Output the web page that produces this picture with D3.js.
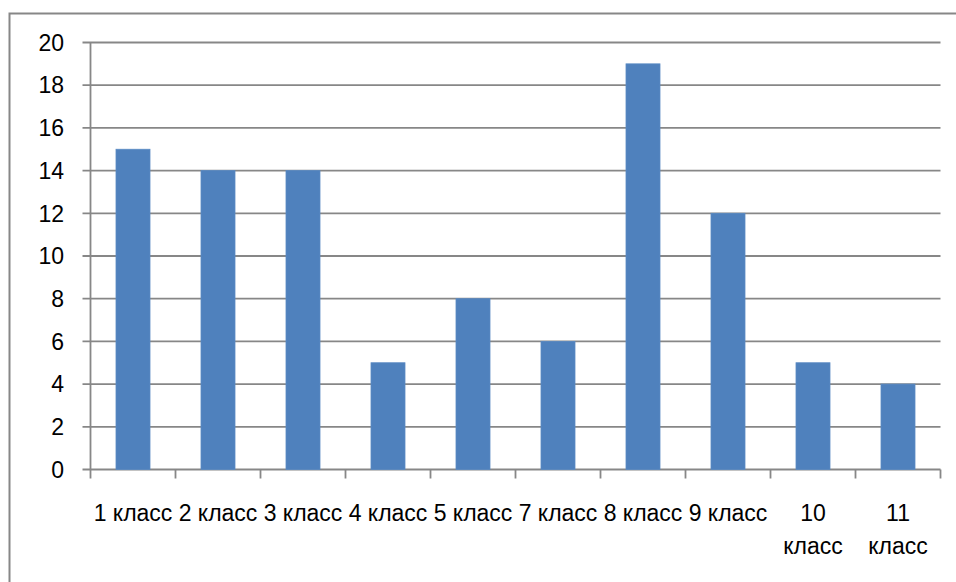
<!DOCTYPE html>
<html>
<head>
<meta charset="utf-8">
<script src="https://cdn.jsdelivr.net/npm/d3@7"></script>
<style>
  body { margin: 0; background: #fff; }
  svg { display: block; font-family: "Liberation Sans", Arial, sans-serif; }
</style>
</head>
<body>
<svg></svg>
<script>
let width = 956,
  height = 582;

// chart data
let categories = ["1 класс", "2 класс", "3 класс", "4 класс", "5 класс", "7 класс", "8 класс", "9 класс", "10 класс", "11 класс"];
let values = [15, 14, 14, 5, 8, 6, 19, 12, 5, 4];
let yTicks = [0, 2, 4, 6, 8, 10, 12, 14, 16, 18, 20];

let svg = d3.select("svg").attr("width", width).attr("height", height);

// outer chart border (only left + top visible in the frame)
svg.append("rect")
  .attr("x", 9.5).attr("y", 13.5)
  .attr("width", 1000).attr("height", 1000)
  .attr("fill", "none")
  .attr("stroke", "#878787")
  .attr("stroke-width", 2);

let plotLeft = 90.5, plotRight = 940.5, plotTop = 42.5, plotBottom = 469.5;

let x = d3.scaleBand()
  .domain(categories)
  .range([plotLeft, plotRight])
  .paddingInner(0.6)
  .paddingOuter(0.3);

let y = d3.scaleLinear().domain([0, 20]).range([plotBottom, plotTop]);

// gridlines + y ticks
svg.append("g")
  .selectAll("line")
  .data(yTicks)
  .enter()
  .append("line")
  .attr("x1", plotLeft - 8)
  .attr("x2", plotRight)
  .attr("y1", (d) => y(d))
  .attr("y2", (d) => y(d))
  .attr("stroke", "#878787")
  .attr("stroke-width", 1.8);

svg.append("g")
  .selectAll("text")
  .data(yTicks)
  .enter()
  .append("text")
  .attr("x", 64)
  .attr("y", (d) => y(d))
  .attr("dy", "0.36em")
  .attr("text-anchor", "end")
  .style("font-size", "23px")
  .attr("fill", "#000")
  .text((d) => d);

// bars
svg.append("g")
  .selectAll("rect")
  .data(values)
  .enter()
  .append("rect")
  .attr("x", (d, i) => x(categories[i]))
  .attr("y", (d) => y(d))
  .attr("width", x.bandwidth())
  .attr("height", (d) => y(0) - y(d))
  .attr("fill", "#4F81BD")
  .attr("stroke", "#5A8AC4")
  .attr("stroke-width", 0.8);

// y axis line
svg.append("line")
  .attr("x1", plotLeft).attr("x2", plotLeft)
  .attr("y1", plotTop).attr("y2", plotBottom)
  .attr("stroke", "#878787")
  .attr("stroke-width", 1.8);

// category boundary ticks
let slot = (plotRight - plotLeft) / categories.length;
let bounds = d3.range(categories.length + 1).map((i) => plotLeft + i * slot);
svg.append("g")
  .selectAll("line")
  .data(bounds)
  .enter()
  .append("line")
  .attr("x1", (d) => d).attr("x2", (d) => d)
  .attr("y1", plotBottom).attr("y2", plotBottom + 9)
  .attr("stroke", "#878787")
  .attr("stroke-width", 1.8);

// category labels, wrapped when wider than the band
let labels = svg.append("g")
  .selectAll("text")
  .data(categories)
  .enter()
  .append("text")
  .attr("x", (d) => x(d) + x.bandwidth() / 2)
  .attr("y", 521)
  .attr("text-anchor", "middle")
  .style("font-size", "23px")
  .attr("fill", "#000")
  .text((d) => d);

labels.each(function (d) {
  let t = d3.select(this);
  if (this.getComputedTextLength() > slot) {
    let words = d.split(" ");
    let cx = t.attr("x");
    t.text(null);
    words.forEach((w, i) => {
      t.append("tspan").attr("x", cx).attr("dy", i == 0 ? 0 : 33).text(w);
    });
  }
});
</script>
</body>
</html>
